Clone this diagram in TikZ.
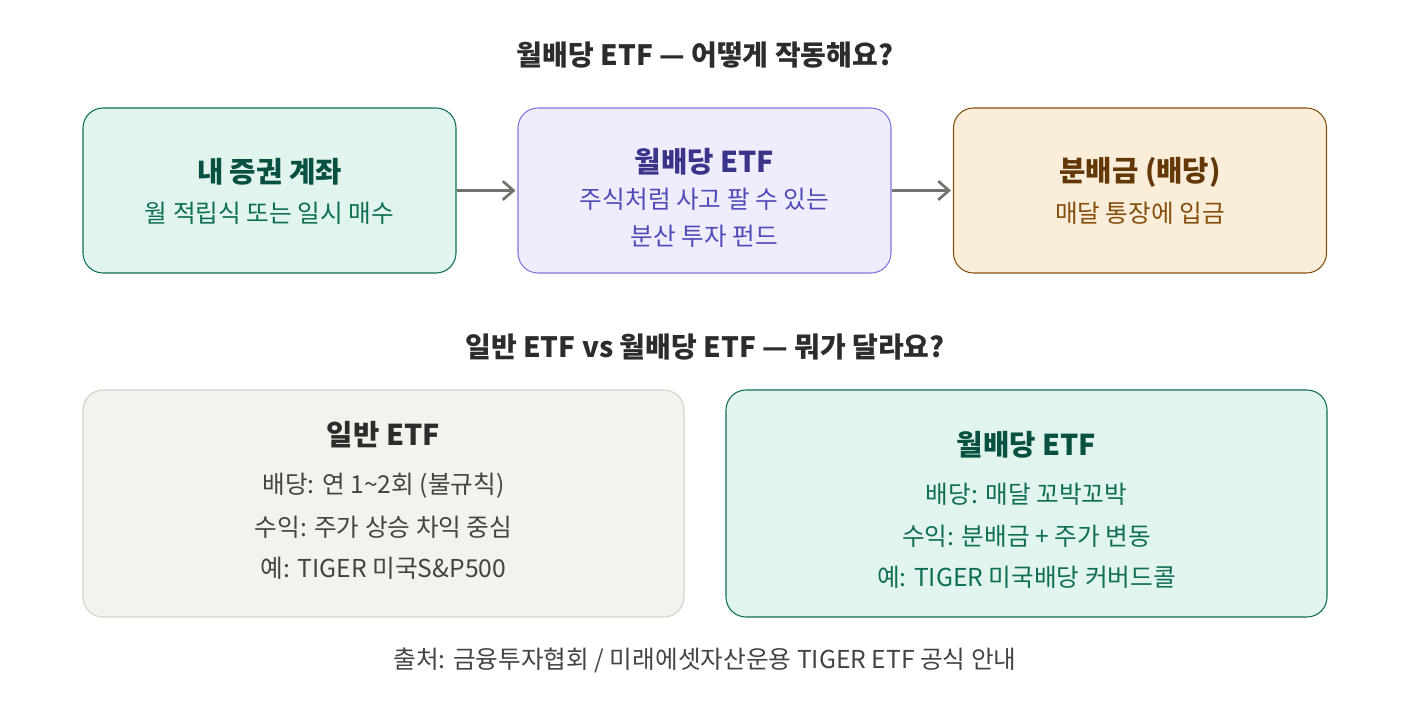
\documentclass[tikz,border=0pt]{standalone}
\usepackage{fontspec}
\setmainfont{Noto Sans CJK KR}
\usepackage{tikz}
\usetikzlibrary{arrows.meta}
\usepackage{xcolor}

\definecolor{tealfill}{HTML}{E1F5EE}
\definecolor{tealline}{HTML}{0F6E56}
\definecolor{tealdark}{HTML}{085041}
\definecolor{purpfill}{HTML}{EEEDFE}
\definecolor{purpline}{HTML}{7F77DD}
\definecolor{purpdark}{HTML}{3C3489}
\definecolor{purptext}{HTML}{534AB7}
\definecolor{ambfill}{HTML}{FAEEDA}
\definecolor{ambline}{HTML}{854F0B}
\definecolor{ambdark}{HTML}{633806}
\definecolor{grayfill}{HTML}{F3F2EC}
\definecolor{grayline}{HTML}{D3D1C7}
\definecolor{graydark}{HTML}{2C2C2A}
\definecolor{graytext}{HTML}{444441}
\definecolor{arrowgray}{HTML}{73726C}

\tikzset{
  card/.style={draw, rounded corners=15pt, line width=0.8pt, inner sep=0pt},
  topcard/.style={card, minimum width=279.75pt, minimum height=123.75pt},
  lowcard/.style={card, minimum width=450.75pt, minimum height=170.25pt},
  heading/.style={font=\fontsize{21}{25}\selectfont\bfseries, text=graydark},
  cardtitle/.style={font=\fontsize{21.5}{26}\selectfont\bfseries},
  cardtext/.style={font=\fontsize{18.5}{22}\selectfont},
  flow/.style={-{Straight Barb[length=8pt, width=14pt, line width=2pt]}, line width=2pt,
    draw=arrowgray, shorten >=1.5pt}
}

\begin{document}
\begin{tikzpicture}[x=0.75pt, y=-0.75pt]
\useasboundingbox (0,0) rectangle (1410,706);

% Headings
\node[heading] (head1) at (705,55) {월배당 ETF — 어떻게 작동해요?};
\node[heading] (head2) at (705,347) {일반 ETF vs 월배당 ETF — 뭐가 달라요?};

% Top cards
\node[topcard, fill=tealfill, draw=tealline] (account) at (269.5,190.5) {};
\node[topcard, fill=purpfill, draw=purpline] (etf) at (704.5,190.5) {};
\node[topcard, fill=ambfill, draw=ambline] (payout) at (1140,190.5) {};

\node[cardtitle, text=tealdark] (accountT) at (269.5,172) {내 증권 계좌};
\node[cardtext, text=tealline] (accountS) at (269.5,213) {월 적립식 또는 일시 매수};

\node[cardtitle, text=purpdark] (etfT) at (704.5,162) {월배당 ETF};
\node[cardtext, text=purptext] (etfS1) at (704.5,199) {주식처럼 사고 팔 수 있는};
\node[cardtext, text=purptext] (etfS2) at (704.5,236) {분산 투자 펀드};

\node[cardtitle, text=ambdark] (payoutT) at (1140,172) {분배금 (배당)};
\node[cardtext, text=ambline] (payoutS) at (1140,213) {매달 통장에 입금};

% Arrows
\draw[flow] (account) -- (etf);
\draw[flow] (etf) -- (payout);

% Lower cards
\node[lowcard, fill=grayfill, draw=grayline] (normal) at (383.5,503.5) {};
\node[lowcard, fill=tealfill, draw=tealline] (monthly) at (1026.5,503.5) {};

\node[cardtitle, text=graydark] (normalT) at (383.5,435) {일반 ETF};
\node[cardtext, text=graytext] (normalA) at (383.5,486) {배당: 연 1\textasciitilde2회 (불규칙)};
\node[cardtext, text=graytext] (normalB) at (383.5,527) {수익: 주가 상승 차익 중심};
\node[cardtext, text=graytext] (normalC) at (383.5,568) {예: TIGER 미국S\&P500};

\node[cardtitle, text=tealdark] (monthlyT) at (1026.5,445) {월배당 ETF};
\node[cardtext, text=tealline] (monthlyA) at (1026.5,494) {배당: 매달 꼬박꼬박};
\node[cardtext, text=tealline] (monthlyB) at (1026.5,536) {수익: 분배금 + 주가 변동};
\node[cardtext, text=tealline] (monthlyC) at (1026.5,577) {예: TIGER 미국배당 커버드콜};

% Source
\node[cardtext, text=graytext] (source) at (705,660) {출처: 금융투자협회 / 미래에셋자산운용 TIGER ETF 공식 안내};

\end{tikzpicture}
\end{document}
